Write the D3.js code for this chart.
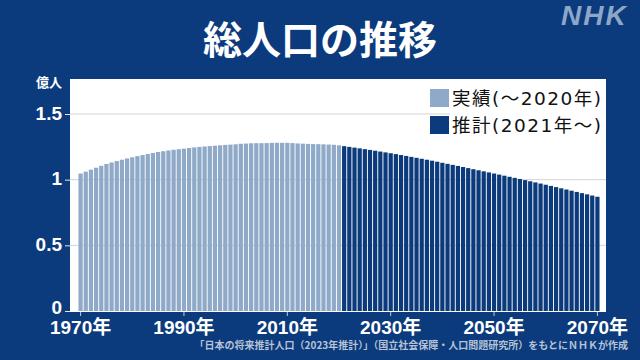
<!DOCTYPE html>
<html>
<head>
<meta charset="utf-8">
<script src="https://cdn.jsdelivr.net/npm/d3@7"></script>
<style>
  html, body { margin: 0; padding: 0; background: #0b3b7c; }
  svg { display: block; }
</style>
</head>
<body>
<div id="my_dataviz"></div>
<script>
// Data: total population of Japan (hundred million people)
const firstYear = 1970;
const lastYear = 2070;
const actualValues = [
  1.0467, 1.0610, 1.0760, 1.0910, 1.1057, 1.1194, 1.1309, 1.1415, 1.1519, 1.1616,
  1.1706, 1.1790, 1.1873, 1.1954, 1.2031, 1.2105, 1.2166, 1.2224, 1.2275, 1.2321,
  1.2361, 1.2410, 1.2457, 1.2494, 1.2527, 1.2557, 1.2586, 1.2617, 1.2647, 1.2667,
  1.2693, 1.2732, 1.2749, 1.2769, 1.2779, 1.2777, 1.2785, 1.2800, 1.2808, 1.2803,
  1.2806, 1.2783, 1.2759, 1.2741, 1.2724, 1.2709, 1.2704, 1.2692, 1.2675, 1.2655,
  1.2615
]; // 1970-2020
const projectedValues = [
  1.2550, 1.2495, 1.2441, 1.2384, 1.2326, 1.2266, 1.2204, 1.2141, 1.2077, 1.2012,
  1.1945, 1.1876, 1.1806, 1.1736, 1.1664, 1.1591, 1.1518, 1.1444, 1.1368, 1.1284,
  1.1206, 1.1127, 1.1047, 1.0964, 1.0880, 1.0798, 1.0716, 1.0634, 1.0551, 1.0469,
  1.0386, 1.0303, 1.0219, 1.0135, 1.0051, 0.9965, 0.9878, 0.9791, 0.9703, 0.9615,
  0.9525, 0.9434, 0.9342, 0.9251, 0.9159, 0.9067, 0.8975, 0.8883, 0.8791, 0.8700
]; // 2021-2070
const xTickYears = [1970, 1990, 2010, 2030, 2050, 2070];
const yTicks = [0, 0.5, 1, 1.5];
const legendLabels = ["実績(～2020年)", "推計(2021年～)"];

const width = 640, height = 360;
const bg = "#0b3b7c";
const actualColor = "#8fa9c8";
const projectedColor = "#0b3b7c";

const years = d3.range(firstYear, lastYear + 1);
const data = years.map((y, i) => ({
  year: y,
  value: i < actualValues.length ? actualValues[i] : projectedValues[i - actualValues.length],
  actual: i < actualValues.length
}));

const svg = d3.select("#my_dataviz").append("svg")
  .attr("width", width).attr("height", height);

svg.append("rect").attr("width", width).attr("height", height).attr("fill", bg);

// plot panel
const plot = { left: 70, right: 606, top: 79, bottom: 312 };
svg.append("rect")
  .attr("x", plot.left).attr("y", plot.top)
  .attr("width", plot.right - plot.left).attr("height", plot.bottom - plot.top)
  .attr("fill", "#ffffff");

const xScale = d3.scaleBand()
  .domain(years)
  .range([78, 600])
  .paddingInner(0.18)
  .paddingOuter(0.09);

const yScale = d3.scaleLinear()
  .domain([0, 1.5])
  .range([311, 114]);

// grid lines (behind bars)
svg.append("g")
  .selectAll("line")
  .data(yTicks.filter(d => d > 0))
  .join("line")
  .attr("x1", plot.left).attr("x2", plot.right)
  .attr("y1", d => yScale(d)).attr("y2", d => yScale(d))
  .attr("stroke", "#d4d4d4").attr("stroke-width", 1);

// bars
svg.append("g")
  .selectAll("rect")
  .data(data)
  .join("rect")
  .attr("x", d => xScale(d.year))
  .attr("y", d => yScale(d.value))
  .attr("width", xScale.bandwidth())
  .attr("height", d => yScale(0) - yScale(d.value))
  .attr("fill", d => d.actual ? actualColor : projectedColor);

// y axis
const yAxis = svg.append("g")
  .attr("transform", `translate(${plot.left},0)`)
  .call(d3.axisLeft(yScale).tickValues(yTicks).tickSize(5).tickPadding(3)
    .tickFormat(d => d3.format("")(d)));
yAxis.select(".domain").remove();
yAxis.selectAll("line").attr("stroke", "#e6e6e6");
yAxis.selectAll("text")
  .attr("fill", "#ffffff")
  .attr("dy", d => d === 0 ? "0.15em" : "0.28em")  // keep "0" clear of the year label
  .style("font-family", "'Liberation Sans', Arial, sans-serif")
  .style("font-weight", "bold")
  .style("font-size", "19px");

svg.append("text")
  .attr("x", 62).attr("y", 87)
  .attr("text-anchor", "end")
  .attr("fill", "#ffffff")
  .style("font-family", "'Noto Sans CJK JP', sans-serif")
  .style("font-weight", "bold")
  .style("font-size", "13px")
  .text("億人");

// x axis
const xAxis = svg.append("g")
  .attr("transform", `translate(0,${plot.bottom})`)
  .call(d3.axisBottom(xScale).tickValues(xTickYears).tickSize(4).tickPadding(5)
    .tickFormat(d => d + "年"));
xAxis.select(".domain").remove();
xAxis.selectAll("line").attr("stroke", "#c8c8c8");
xAxis.selectAll("text")
  .attr("fill", "#ffffff")
  .style("font-family", "'Liberation Sans', 'Noto Sans CJK JP', sans-serif")
  .style("font-weight", "bold")
  .style("font-size", "19px");

// legend
svg.append("rect")
  .attr("x", 450).attr("y", 86)
  .attr("width", plot.right - 450).attr("height", 50)
  .attr("fill", "#ffffff");
const legend = svg.selectAll(".legend")
  .data(legendLabels)
  .join("g")
  .attr("class", "legend")
  .attr("transform", (d, i) => `translate(430, ${89 + i * 27})`);
legend.append("rect")
  .attr("width", 19).attr("height", 18)
  .attr("fill", (d, i) => i === 0 ? actualColor : projectedColor);
legend.append("text")
  .attr("x", 22).attr("y", 16)
  .attr("fill", "#111111")
  .style("font-family", "'DejaVu Sans', 'Noto Sans CJK JP', sans-serif")
  .style("font-size", "18.5px")
  .style("letter-spacing", "1.5px")
  .text(d => d);

// title
svg.append("text")
  .attr("x", 320).attr("y", 54)
  .attr("text-anchor", "middle")
  .attr("fill", "#ffffff")
  .style("font-family", "'Noto Sans CJK JP', sans-serif")
  .style("font-weight", "bold")
  .style("font-size", "39px")
  .text("総人口の推移");

// logo
svg.append("text")
  .attr("x", 561).attr("y", 25)
  .attr("fill", "#8ea7c8")
  .style("font-family", "'Liberation Sans', Arial, sans-serif")
  .style("font-weight", "bold")
  .style("font-style", "italic")
  .style("font-size", "28px")
  .style("letter-spacing", "2px")
  .text("NHK");

// source
svg.append("text")
  .attr("x", 628).attr("y", 349)
  .attr("text-anchor", "end")
  .attr("fill", "#b7c3d6")
  .style("font-family", "'Noto Sans CJK JP', sans-serif")
  .style("font-weight", "bold")
  .style("font-size", "10px")
  .text("「日本の将来推計人口（2023年推計）」（国立社会保障・人口問題研究所）をもとにＮＨＫが作成");
</script>
</body>
</html>
